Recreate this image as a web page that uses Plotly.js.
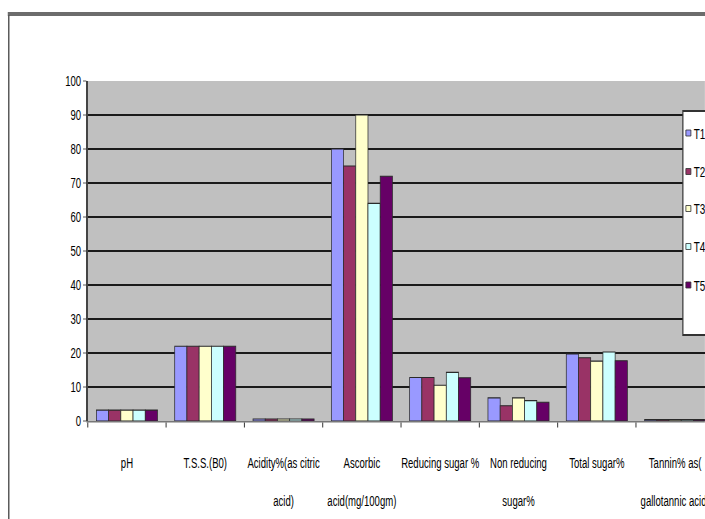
<!DOCTYPE html>
<html>
<head>
<meta charset="utf-8">
<script src="https://cdn.plot.ly/plotly-3.0.1.min.js"></script>
<style>
  html, body { margin: 0; padding: 0; background: #ffffff; overflow: hidden; width: 705px; height: 519px; }
  #chart { transform-origin: 0 0; }
</style>
</head>
<body>
<div id="chart"></div>
<script>
// ---- data ----
const categories = ['pH', 'TSS', 'Acidity', 'Ascorbic', 'Reducing', 'NonReducing', 'TotalSugar', 'Tannin'];
const tickLabels = [
  'pH',
  'T.S.S.(B0)',
  'Acidity%(as citric<br><br>acid)',
  'Ascorbic<br><br>acid(mg/100gm)',
  'Reducing sugar %',
  'Non reducing<br><br>sugar%',
  'Total sugar%',
  'Tannin% as(<br><br>gallotannic acid)'
];
const seriesNames = ['T1', 'T2', 'T3', 'T4', 'T5'];
const T1 = [3.2, 22, 0.6, 80, 12.8, 6.8, 19.7, 0.4];
const T2 = [3.2, 22, 0.6, 75, 12.8, 4.5, 18.6, 0.4];
const T3 = [3.2, 22, 0.6, 90, 10.5, 6.8, 17.6, 0.4];
const T4 = [3.2, 22, 0.6, 64, 14.3, 6.0, 20.3, 0.4];
const T5 = [3.2, 22, 0.6, 72, 12.7, 5.5, 17.7, 0.4];
const seriesValues = [T1, T2, T3, T4, T5];
const seriesColors = ['#9999FF', '#993366', '#FFFFCC', '#CCFFFF', '#660066'];
const yTicks = [0, 10, 20, 30, 40, 50, 60, 70, 80, 90, 100];

// ---- layout helpers ----
// The reference is a horizontally squeezed Excel chart: draw it wider and squeeze it with CSS.
const S = 0.66;                       // horizontal squeeze factor
const FONT = '"Liberation Sans", Arial, sans-serif';
const SW = 705, H = 519;              // screen size
const W = SW / S;                     // drawing width before squeeze
const SM = { l: 88, r: 0, t: 81, b: 98 };   // margins in screen pixels
const M = { l: SM.l / S, r: SM.r / S, t: SM.t, b: SM.b };
const SPW = SW - SM.l - SM.r, PH = H - M.t - M.b;
const px2x = p => (p - SM.l) / SPW;   // screen x -> paper x
const py2y = p => (H - M.b - p) / PH; // screen y -> paper y

document.getElementById('chart').style.transform = 'scaleX(' + S + ')';

const traces = seriesNames.map((name, i) => ({
  type: 'bar',
  name: name,
  x: categories,
  y: seriesValues[i],
  marker: { color: seriesColors[i], line: { color: '#2a2a2a', width: 1.1 } },
  showlegend: false,
  hoverinfo: 'none'
}));

// custom legend box (Excel style, cut at the right edge)
const legendTop = 111, legendBottom = 335, legendLeft = 683;
const legendRows = [133, 171.5, 208.5, 246.5, 285];

const shapes = [
  // chart frame: top band and left edge
  { type: 'line', xref: 'paper', yref: 'paper', x0: px2x(8), x1: px2x(710), y0: py2y(14), y1: py2y(14),
    line: { color: '#6c6c6c', width: 4 } },
  { type: 'line', xref: 'paper', yref: 'paper', x0: px2x(9), x1: px2x(9), y0: py2y(15), y1: py2y(525),
    line: { color: '#555555', width: 2.2 } },
  // legend box
  { type: 'rect', xref: 'paper', yref: 'paper', x0: px2x(legendLeft), x1: px2x(730),
    y0: py2y(legendBottom), y1: py2y(legendTop),
    fillcolor: '#ffffff', line: { color: '#333333', width: 1.8 } }
];
const annotations = [];
seriesNames.forEach((name, i) => {
  const cy = legendRows[i];
  shapes.push({ type: 'rect', xref: 'paper', yref: 'paper',
    x0: px2x(686), x1: px2x(691), y0: py2y(cy + 3), y1: py2y(cy - 3),
    fillcolor: seriesColors[i], line: { color: '#333333', width: 1 } });
  annotations.push({ xref: 'paper', yref: 'paper', x: px2x(692.5), y: py2y(cy),
    xanchor: 'left', yanchor: 'middle', showarrow: false, text: name,
    font: { family: FONT, size: 15, color: '#000000' } });
});

const layout = {
  width: W, height: H,
  margin: { l: M.l, r: M.r, t: M.t, b: M.b, pad: 0, autoexpand: false },
  paper_bgcolor: '#ffffff',
  plot_bgcolor: '#C0C0C0',
  barmode: 'group',
  bargap: 0.22,
  bargroupgap: 0,
  showlegend: false,
  font: { family: FONT, size: 14, color: '#000000' },
  xaxis: {
    type: 'category',
    range: [-0.5, 7.38],
    tickmode: 'array',
    tickvals: categories,
    ticktext: tickLabels,
    tickangle: 0,
    tickson: 'boundaries',
    ticks: 'outside', ticklen: 5, tickcolor: '#333333', tickwidth: 1.5,
    ticklabelstandoff: 28,
    showline: true, linecolor: '#777777', linewidth: 1.5,
    showgrid: false, zeroline: false,
    tickfont: { family: FONT, size: 14.5, color: '#000000' },
    fixedrange: true
  },
  yaxis: {
    range: [0, 100],
    tickmode: 'array',
    tickvals: yTicks,
    ticks: 'outside', ticklen: 5, tickcolor: '#333333', tickwidth: 1,
    showline: true, linecolor: '#444444', linewidth: 2.2,
    showgrid: true, gridcolor: '#1a1a1a', gridwidth: 2.5,
    zeroline: false,
    tickfont: { family: FONT, size: 14.5, color: '#000000' },
    fixedrange: true
  },
  shapes: shapes,
  annotations: annotations
};

Plotly.newPlot('chart', traces, layout, { displayModeBar: false, staticPlot: true });
</script>
</body>
</html>
